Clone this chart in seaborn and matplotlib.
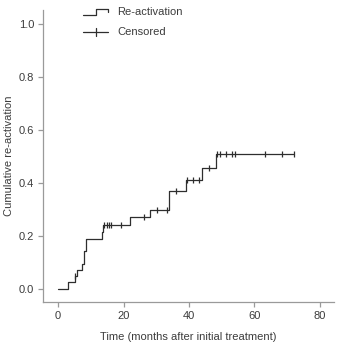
import numpy as np
import pandas as pd
import matplotlib
matplotlib.use("Agg")
import matplotlib.pyplot as plt
import seaborn as sns
from matplotlib.legend_handler import HandlerBase
from matplotlib.lines import Line2D

# ---- data ----
event_times = [0, 3.0, 5.2, 5.9, 7.2, 7.9, 8.5, 13.3, 13.8, 22.0, 28.1, 34.0, 39.1, 44.1, 48.2, 72.2]
cum_reactivation = [0, 0.025, 0.048, 0.072, 0.095, 0.145, 0.19, 0.215, 0.24, 0.27, 0.30, 0.37, 0.41, 0.455, 0.51, 0.51]
censor_times = [5.3, 14.0, 14.9, 15.6, 16.2, 19.2, 26.3, 30.1, 33.2, 36.0, 39.3, 41.1, 43.1,
                46.1, 48.6, 49.5, 51.3, 53.0, 54.0, 63.2, 68.3, 72.2]
x_ticks = [0, 20, 40, 60, 80]
y_ticks = [0.0, 0.2, 0.4, 0.6, 0.8, 1.0]
x_label = "Time (months after initial treatment)"
y_label = "Cumulative re-activation"
legend_labels = ["Re-activation", "Censored"]

# censor marks sit on the step curve
idx = np.searchsorted(event_times, censor_times, side="right") - 1
censor_levels = [cum_reactivation[i] for i in idx]

curve = pd.DataFrame({"t": event_times, "cum": cum_reactivation})
cens = pd.DataFrame({"t": censor_times, "cum": censor_levels})

sns.set_style("ticks")
plt.rcParams["font.family"] = ["Liberation Sans", "DejaVu Sans"]

line_col = "#2e2e2e"
text_col = "#3c3c3c"
spine_col = "#9a9a9a"
fs = 8

fig = plt.figure(figsize=(3.38, 3.44), dpi=100)
ax = fig.add_axes([43 / 338, 1 - 302 / 344, (334 - 43) / 338, (302 - 10) / 344])

sns.lineplot(data=curve, x="t", y="cum", drawstyle="steps-post", estimator=None,
             color=line_col, linewidth=0.9, ax=ax, legend=False)
sns.scatterplot(data=cens, x="t", y="cum", marker="|", s=22, linewidth=0.9,
                color=line_col, ax=ax, legend=False, zorder=3)

ax.set_xlim(-4.6, 84.3)
ax.set_ylim(-0.049, 1.053)
ax.set_xticks(x_ticks)
ax.set_yticks(y_ticks)
ax.set_xticklabels([str(v) for v in x_ticks])
ax.set_yticklabels([f"{v:.1f}" for v in y_ticks])
ax.set_xlabel(x_label, fontsize=fs, color=text_col, labelpad=8)
ax.set_ylabel(y_label, fontsize=fs, color=text_col, labelpad=3)
ax.tick_params(axis="both", labelsize=fs, labelcolor=text_col, color=spine_col,
               length=3.5, width=0.9, pad=3)
for side in ["top", "right"]:
    ax.spines[side].set_visible(False)
for side in ["left", "bottom"]:
    ax.spines[side].set_color(spine_col)
    ax.spines[side].set_linewidth(0.9)


class StepHandler(HandlerBase):
    def create_artists(self, legend, orig_handle, xdescent, ydescent, width, height, fontsize, trans):
        x0 = -xdescent
        x1 = x0 + width
        xm = x0 + width * 0.5
        ylo = -ydescent + height * 0.05
        yhi = -ydescent + height * 0.75
        ymid = -ydescent + height * 0.4
        ln = Line2D([x0, xm, xm, x1, x1], [ylo, ylo, yhi, yhi, ymid],
                    color=line_col, lw=0.9, transform=trans)
        return [ln]


class CensorHandler(HandlerBase):
    def create_artists(self, legend, orig_handle, xdescent, ydescent, width, height, fontsize, trans):
        x0 = -xdescent
        x1 = x0 + width
        yc = -ydescent + height * 0.4
        xm = x0 + width * 0.5
        ln = Line2D([x0, x1], [yc, yc], color=line_col, lw=0.9, transform=trans)
        tick = Line2D([xm, xm], [yc - height * 0.55, yc + height * 0.55],
                      color=line_col, lw=0.9, transform=trans)
        return [ln, tick]


h1 = Line2D([], [])
h2 = Line2D([], [])
leg = fig.legend([h1, h2], legend_labels,
                 handler_map={h1: StepHandler(), h2: CensorHandler()},
                 loc="upper left", bbox_to_anchor=(83 / 338, 1 - 7 / 344),
                 frameon=False, fontsize=fs, handlelength=2.25, handletextpad=0.8,
                 labelspacing=0.9, borderpad=0, borderaxespad=0)
for t in leg.get_texts():
    t.set_color(text_col)

fig.savefig("out.png", dpi=100)
